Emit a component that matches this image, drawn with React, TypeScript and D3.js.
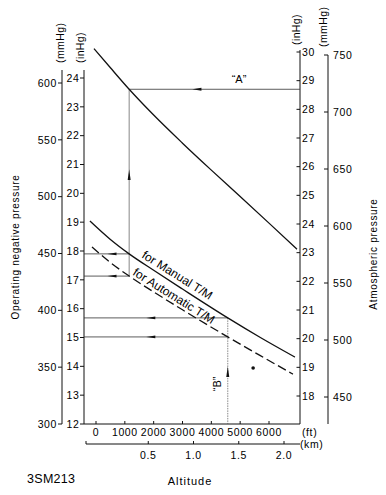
import React from "react";
import * as d3 from "d3";

// altitude in ft, pressures in inHg
const atmFt = [-70, 500, 1150, 2000, 3000, 4000, 5000, 6000, 6970];
const atmInHg = [30.12, 29.45, 28.7, 27.8, 26.82, 25.88, 24.96, 24.03, 23.12];

const manualFt = [-210, 500, 1150, 2000, 3000, 4570, 5700, 6900];
const manualInHg = [19.04, 18.4, 17.9, 17.33, 16.68, 15.68, 15.0, 14.32];

const autoFt = [-140, 500, 1150, 2000, 3000, 4570, 5700, 6830];
const autoInHg = [18.14, 17.6, 17.13, 16.58, 15.96, 15.02, 14.37, 13.73];

// worked examples "A" and "B"
const exampleA = { ft: 1150, atm: 28.7, manual: 17.9, auto: 17.13 };
const exampleB = { ft: 4570, manual: 15.68, auto: 15.02 };
const strayDot = { ft: 5450, inHg: 13.94 };

const ftTicks = [0, 1000, 2000, 3000, 4000, 5000, 6000];
const kmTicks = [0.5, 1.0, 1.5, 2.0];
const leftMmTicks = [300, 350, 400, 450, 500, 550, 600];
const leftInTicks = [12, 13, 14, 15, 16, 17, 18, 19, 20, 21, 22, 23, 24];
const rightInTicks = [18, 19, 20, 21, 22, 23, 24, 25, 26, 27, 28, 29, 30];
const rightMmTicks = [450, 500, 550, 600, 650, 700, 750];

const FONT = "'Liberation Sans', Arial, Helvetica, sans-serif";
const X_LMM = 62, X_LIN = 84, X_RIN = 300, X_RMM = 328;
const Y_FT = 424, Y_KM = 444;

function App() {
  const x = d3.scaleLinear().domain([0, 6000]).range([96, 269]);
  const km = d3.scaleLinear().domain([0, 2]).range([103, 284]);
  const yLin = d3.scaleLinear().domain([12, 24]).range([424, 78]);
  const yLmm = d3.scaleLinear().domain([300, 600]).range([424, 83]);
  const yRin = d3.scaleLinear().domain([18, 30]).range([396, 52]);
  const yRmm = d3.scaleLinear().domain([450, 750]).range([397, 55]);

  const lineR = d3.line<number>().x((_, i) => x(atmFt[i])).y((d) => yRin(d)).curve(d3.curveMonotoneX);
  const lineM = d3.line<number>().x((_, i) => x(manualFt[i])).y((d) => yLin(d)).curve(d3.curveMonotoneX);
  const lineA = d3.line<number>().x((_, i) => x(autoFt[i])).y((d) => yLin(d)).curve(d3.curveMonotoneX);

  const arrowLeft = (cx: number, cy: number) =>
    `M${cx - 4.5},${cy} L${cx + 4.5},${cy - 1.4} L${cx + 4.5},${cy + 1.4} Z`;
  const arrowUp = (cx: number, cy: number) =>
    `M${cx},${cy - 5.5} L${cx - 1.5},${cy + 5} L${cx + 1.5},${cy + 5} Z`;

  const tickText = { fontFamily: FONT, fontSize: 10.5, letterSpacing: 0.6 } as const;

  const ax = { stroke: "#111", strokeWidth: 1 };
  const guide = { stroke: "#333", strokeWidth: 0.8, fill: "none" };

  const aY = yRin(exampleA.atm);
  const aXp = x(exampleA.ft);
  const bXp = x(exampleB.ft);

  return (
    <svg width={386} height={495} style={{ position: "absolute", left: 0, top: 0, background: "#fff" }}>
      {/* left mmHg axis */}
      <line x1={X_LMM} x2={X_LMM} y1={70} y2={Y_FT} {...ax} />
      {leftMmTicks.map((t) => (
        <g key={"lm" + t}>
          <line x1={X_LMM - 4} x2={X_LMM} y1={yLmm(t)} y2={yLmm(t)} {...ax} />
          <text x={X_LMM - 5} y={yLmm(t)} dy="0.36em" textAnchor="end" {...tickText}>{t}</text>
        </g>
      ))}
      {/* left inHg axis */}
      <line x1={X_LIN} x2={X_LIN} y1={70} y2={Y_FT} {...ax} />
      {leftInTicks.map((t) => (
        <g key={"li" + t}>
          <line x1={X_LIN - 4} x2={X_LIN} y1={yLin(t)} y2={yLin(t)} {...ax} />
          <text x={X_LIN - 4.5} y={yLin(t)} dy="0.36em" textAnchor="end" {...tickText}>{t}</text>
        </g>
      ))}
      {/* right inHg axis */}
      <line x1={X_RIN} x2={X_RIN} y1={50} y2={Y_FT} {...ax} />
      {rightInTicks.map((t) => (
        <g key={"ri" + t}>
          <line x1={X_RIN - 3.5} x2={X_RIN} y1={yRin(t)} y2={yRin(t)} {...ax} />
          <text x={X_RIN + 2} y={yRin(t)} dy="0.36em" {...tickText}>{t}</text>
        </g>
      ))}
      {/* right mmHg axis */}
      <line x1={X_RMM} x2={X_RMM} y1={55} y2={Y_FT} {...ax} />
      {rightMmTicks.map((t) => (
        <g key={"rm" + t}>
          <line x1={X_RMM - 4} x2={X_RMM} y1={yRmm(t)} y2={yRmm(t)} {...ax} />
          <text x={X_RMM + 5} y={yRmm(t)} dy="0.36em" {...tickText}>{t}</text>
        </g>
      ))}

      {/* unit labels */}
      {[
        { t: "(mmHg)", x: 60, y: 63 },
        { t: "(inHg)", x: 80, y: 63 },
        { t: "(inHg)", x: 296, y: 45 },
        { t: "(mmHg)", x: 323, y: 47 },
      ].map((u, i) => (
        <text key={"u" + i} transform={`translate(${u.x},${u.y}) rotate(-90)`} dy="0.36em"
          fontFamily={FONT} fontSize={10.5} letterSpacing={0.4}>{u.t}</text>
      ))}

      {/* ft axis */}
      <line x1={X_LIN} x2={X_RIN} y1={Y_FT} y2={Y_FT} {...ax} />
      {ftTicks.map((t) => (
        <g key={"ft" + t}>
          <line x1={x(t)} x2={x(t)} y1={Y_FT} y2={Y_FT - 3} {...ax} />
          <text x={x(t)} y={435.5} textAnchor="middle" {...tickText}>{t}</text>
        </g>
      ))}
      <text x={302} y={435.5} {...tickText}>(ft)</text>
      {/* km axis */}
      <line x1={86} x2={300} y1={Y_KM} y2={Y_KM} {...ax} />
      <line x1={86} x2={86} y1={Y_KM} y2={Y_KM - 3} {...ax} />
      {kmTicks.map((t) => (
        <g key={"km" + t}>
          <line x1={km(t)} x2={km(t)} y1={Y_KM} y2={Y_KM - 3} {...ax} />
          <text x={km(t)} y={459} textAnchor="middle" {...tickText}>{t.toFixed(1)}</text>
        </g>
      ))}
      <text x={300} y={Y_KM} dy="0.36em" {...tickText}>(km)</text>

      {/* titles */}
      <text x={190} y={485} textAnchor="middle" fontFamily={FONT} fontSize={11} letterSpacing={1}>Altitude</text>
      <text x={27} y={483} fontFamily={FONT} fontSize={12.5} letterSpacing={0.3}>3SM213</text>
      <text transform="translate(15,247) rotate(-90)" dy="0.36em" textAnchor="middle"
        fontFamily={FONT} fontSize={10} letterSpacing={0.7}>Operating negative pressure</text>
      <text transform="translate(373,254) rotate(-90)" dy="0.36em" textAnchor="middle"
        fontFamily={FONT} fontSize={10} letterSpacing={0.7}>Atmospheric pressure</text>

      {/* guides for example A */}
      <line x1={X_RIN} x2={aXp} y1={aY} y2={aY} {...guide} />
      <path d={arrowLeft(x(3500), aY)} fill="#111" />
      <text x={x(4960)} y={aY - 6} textAnchor="middle" fontFamily={FONT} fontSize={11}>{"\u201CA\u201D"}</text>
      <line x1={aXp} x2={aXp} y1={aY} y2={yLin(exampleA.auto)} stroke="#555" strokeWidth={0.7} />
      <path d={arrowUp(aXp, yLin(20.64))} fill="#111" />
      <line x1={aXp} x2={X_LIN} y1={yLin(exampleA.manual)} y2={yLin(exampleA.manual)} {...guide} />
      <line x1={aXp} x2={X_LIN} y1={yLin(exampleA.auto)} y2={yLin(exampleA.auto)} {...guide} />
      <path d={arrowLeft(x(555), yLin(exampleA.manual))} fill="#111" />
      <path d={arrowLeft(x(555), yLin(exampleA.auto))} fill="#111" />

      {/* guides for example B */}
      <line x1={bXp} x2={X_LIN} y1={yLin(exampleB.manual)} y2={yLin(exampleB.manual)} {...guide} />
      <line x1={bXp} x2={X_LIN} y1={yLin(exampleB.auto)} y2={yLin(exampleB.auto)} {...guide} />
      <path d={arrowLeft(x(1900), yLin(exampleB.manual))} fill="#111" />
      <path d={arrowLeft(x(1900), yLin(exampleB.auto))} fill="#111" />
      <line x1={bXp} x2={bXp} y1={yLin(exampleB.manual)} y2={Y_FT} stroke="#555" strokeWidth={0.7} strokeDasharray="1.5,1" />
      <path d={arrowUp(bXp, yLin(13.8))} fill="#111" />
      <text transform={`translate(${x(4200)},${yLin(13.39)}) rotate(-90)`} dy="0.36em" textAnchor="middle"
        fontFamily={FONT} fontSize={11}>{"\u201CB\u201D"}</text>
      <circle cx={x(strayDot.ft)} cy={yLin(strayDot.inHg)} r={1.8} fill="#111" />

      {/* curves */}
      <path d={lineR(atmInHg) || ""} fill="none" stroke="#111" strokeWidth={1.3} />
      <path d={lineM(manualInHg) || ""} fill="none" stroke="#111" strokeWidth={1.3} />
      <path d={lineA(autoInHg) || ""} fill="none" stroke="#111" strokeWidth={1.3} strokeDasharray="9,4" />

      <text transform={`translate(${x(1560)},${yLin(17.66) - 3.5}) rotate(32)`} fontFamily={FONT} fontSize={12}>for Manual T/M</text>
      <text transform={`translate(${x(1250)},${yLin(17.06) - 3.5}) rotate(32)`} fontFamily={FONT} fontSize={12}>for Automatic T/M</text>
    </svg>
  );
}

export default App;
